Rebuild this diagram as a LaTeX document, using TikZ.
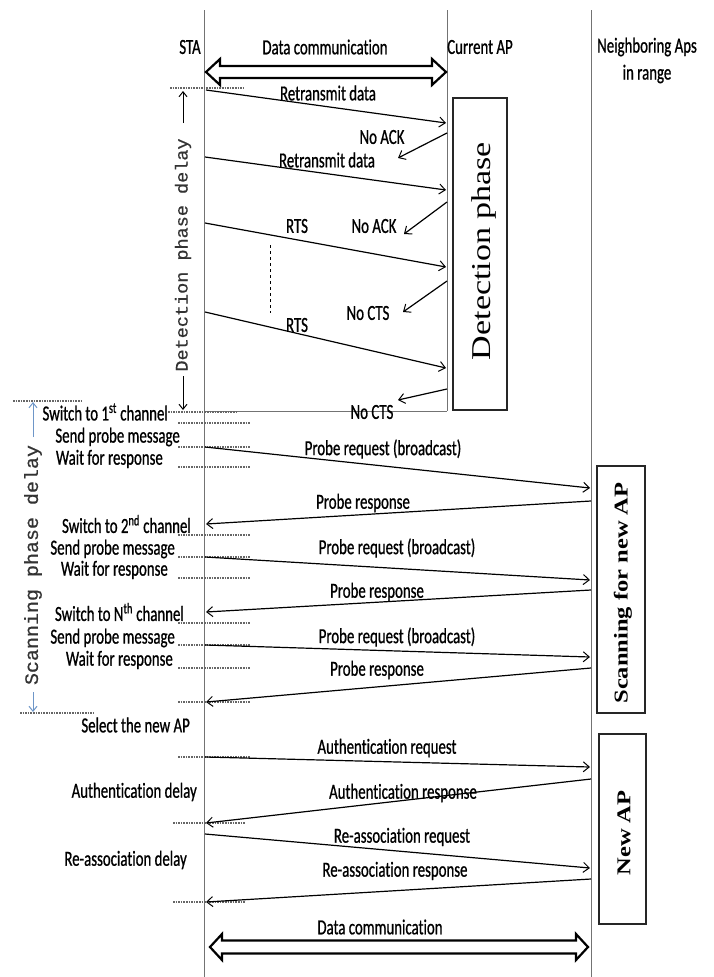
\documentclass[tikz,border=0pt]{standalone}
\usepackage{fontspec}
\setmainfont{Carlito}[FakeStretch=0.69,FakeBold=0.8,Ligatures={NoCommon}]
\newfontfamily\monof{Liberation Mono}[FakeBold=0.6]
\newfontfamily\serf{Liberation Serif}
\usetikzlibrary{arrows.meta}
\definecolor{delayblue}{RGB}{110,150,200}
\tikzset{
 life/.style={draw=black!55, line width=0.9pt},
 msg/.style={line width=1.2pt, -{Straight Barb[length=6pt,width=10pt,line width=1pt]}},
 dotline/.style={black!60, line width=1.5pt, dash pattern=on 1.6pt off 1pt},
 lbl/.style={inner sep=0pt, font=\fontsize{21.5}{24}\selectfont},
 phasebox/.style={draw=black!85, line width=2.4pt, inner sep=0pt},
 blockarrow/.style={draw=black, line width=2.2pt, fill=white, line join=miter},
 delayarrow/.style={line width=1pt, -{Straight Barb[length=5pt,width=8pt]}},
 vtext/.style={rotate=90, inner sep=0pt},
}
\begin{document}
\begin{tikzpicture}[x=1pt,y=-1pt]
\useasboundingbox (0,0) rectangle (713,977);
\fill[white] (0,0) rectangle (713,977);

% lifelines
\coordinate (staT) at (204,10); \coordinate (staB) at (204,977);
\coordinate (capT) at (447,10); \coordinate (capB) at (447,411);
\coordinate (nbT) at (591,10); \coordinate (nbB) at (591,977);
\coordinate (staH) at (204,411);
\draw[life] (staT) -- (staB);
\draw[life] (capT) -- (capB);
\draw[life] (nbT) -- (nbB);
\draw[life] (staH) -- (capB);

% headers
\node[lbl] (sta) at (190,47) {STA};
\node[lbl] (dc1) at (325,47) {Data communication};
\node[lbl] (cap) at (480,47) {Current AP};
\node[lbl] (nb1) at (647,47) {Neighboring Aps};
\node[lbl] (nb2) at (647,74) {in range};

% block arrows
\draw[blockarrow] (206,72) -- ++(14,-13) -- ++(0,7) -- (432,66) -- ++(0,-7) -- (446,72)
  -- ++(-14,13) -- ++(0,-7) -- (220,78) -- ++(0,7) -- cycle;
\draw[blockarrow] (210,947) -- ++(12,-13) -- ++(0,6.5) -- (576,940.5) -- ++(0,-6.5) -- (588,947)
  -- ++(-12,13) -- ++(0,-6.5) -- (222,953.5) -- ++(0,6.5) -- cycle;
\node[lbl] (dc2) at (380,927) {Data communication};

% phase boxes
\node[phasebox, minimum width=54pt, minimum height=312pt] (detbox) at (480,254) {};
\node[vtext] (dettxt) at (484,251) {\scalebox{1}[0.8]{\serf\fontsize{34}{34}\selectfont Detection phase}};
\node[phasebox, minimum width=48pt, minimum height=247pt] (scanbox) at (621,589.5) {};
\node[vtext] (scantxt) at (623,593) {\scalebox{1}[0.8]{\serf\bfseries\fontsize{24.5}{25}\selectfont Scanning for new AP}};
\node[phasebox, minimum width=47pt, minimum height=190pt] (newbox) at (622.5,829) {};
\node[vtext] (newtxt) at (624,833) {\scalebox{1}[0.8]{\serf\bfseries\fontsize{24.5}{25}\selectfont New AP}};

% delay labels
\node[vtext, text=black!80] (detdelay) at (183,255) {\scalebox{1}[0.95]{\monof\fontsize{18.5}{18.5}\selectfont Detection phase delay}};
\coordinate (dda) at (183,123); \coordinate (ddb) at (183,91);
\coordinate (ddc) at (183,376); \coordinate (ddd) at (183,410);
\draw[delayarrow] (dda) -- (ddb);
\draw[delayarrow] (ddc) -- (ddd);
\node[vtext, text=black!80] (scdelay) at (33,565) {\scalebox{1}[0.95]{\monof\fontsize{20}{20}\selectfont Scanning phase delay}};
\coordinate (sda) at (33,437); \coordinate (sdb) at (33,402);
\coordinate (sdc) at (33,692); \coordinate (sdd) at (33,712);
\draw[delayarrow, delayblue] (sda) -- (sdb);
\draw[delayarrow, delayblue] (sdc) -- (sdd);

% dotted markers
\foreach \n/\y/\xa/\xb in {a/88/170/243, b/412/168/237, c/423/178/250, d/447/178/250,
  e/467/178/250, f/535/178/250, g/557/178/250, h/578/178/250, i/623/178/250,
  j/645/178/250, k/668/178/250, l/702/178/250, m/757/178/250, n/823/173/245,
  o/902/173/245, p/401/13/83, q/713/20/93}{
  \coordinate (dot\n1) at (\xa,\y); \coordinate (dot\n2) at (\xb,\y);
  \draw[dotline] (dot\n1) -- (dot\n2);
}

% messages
\foreach \n/\xa/\ya/\xb/\yb in {d1/206/90/446/123, d2/447/133/398/158, d3/205/157/446/190,
  d4/447/202/404/234, d5/205/223/446/267, d6/447/281/403/312, d7/205/312/446/368,
  d8/447/389/398/400, s1/205/447/590/488, s2/591/501/206/524, s3/205/557/590/580,
  s4/591/590/206/612, s5/205/645/590/657, s6/591/668/206/702, a1/205/757/590/767,
  a2/591/779/206/823, r1/205/834/590/868, r2/591/879/206/902}{
  \coordinate (\n s) at (\xa,\ya); \coordinate (\n e) at (\xb,\yb);
  \draw[msg] (\n s) -- (\n e);
}

% vertical dashed ellipsis
\coordinate (vd1) at (270,245); \coordinate (vd2) at (270,313);
\draw[dashed, line width=0.8pt] (vd1) -- (vd2);

% message labels
\node[lbl] (ld1) at (328,93) {Retransmit data};
\node[lbl] (ld2) at (382,137) {No ACK};
\node[lbl] (ld3) at (327,160) {Retransmit data};
\node[lbl] (ld4) at (374,226) {No ACK};
\node[lbl] (ld5) at (297,226) {RTS};
\node[lbl] (ld6) at (368,313) {No CTS};
\node[lbl] (ld7) at (297,325) {RTS};
\node[lbl] (ld8) at (372,412) {No CTS};
\node[lbl] (ls1) at (383,449) {Probe request (broadcast)};
\node[lbl] (ls2) at (363,503) {Probe response};
\node[lbl] (ls3) at (397,548) {Probe request (broadcast)};
\node[lbl] (ls4) at (377,592) {Probe response};
\node[lbl] (ls5) at (397,637) {Probe request (broadcast)};
\node[lbl] (ls6) at (377,670) {Probe response};
\node[lbl] (la1) at (387,748) {Authentication request};
\node[lbl] (la2) at (403,793) {Authentication response};
\node[lbl] (lr1) at (402,837) {Re-association request};
\node[lbl] (lr2) at (395,871) {Re-association response};

% left labels
\node[lbl, anchor=east] (sw1) at (168,412) {Switch to 1\textsuperscript{st} channel};
\node[lbl, anchor=east] (sp1) at (180,437) {Send probe message};
\node[lbl, anchor=east] (wr1) at (163,459) {Wait for response};
\node[lbl, anchor=east] (sw2) at (191,524) {Switch to 2\textsuperscript{nd} channel};
\node[lbl, anchor=east] (sp2) at (175,549) {Send probe message};
\node[lbl, anchor=east] (wr2) at (168,570) {Wait for response};
\node[lbl, anchor=east] (sw3) at (184,612) {Switch to N\textsuperscript{th} channel};
\node[lbl, anchor=east] (sp3) at (175,638) {Send probe message};
\node[lbl, anchor=east] (wr3) at (173,660) {Wait for response};
\node[lbl, anchor=east] (sel) at (190,725) {Select the new AP};
\node[lbl, anchor=east] (aud) at (197,792) {Authentication delay};
\node[lbl, anchor=east] (rad) at (187,860) {Re-association delay};
\end{tikzpicture}
\end{document}
